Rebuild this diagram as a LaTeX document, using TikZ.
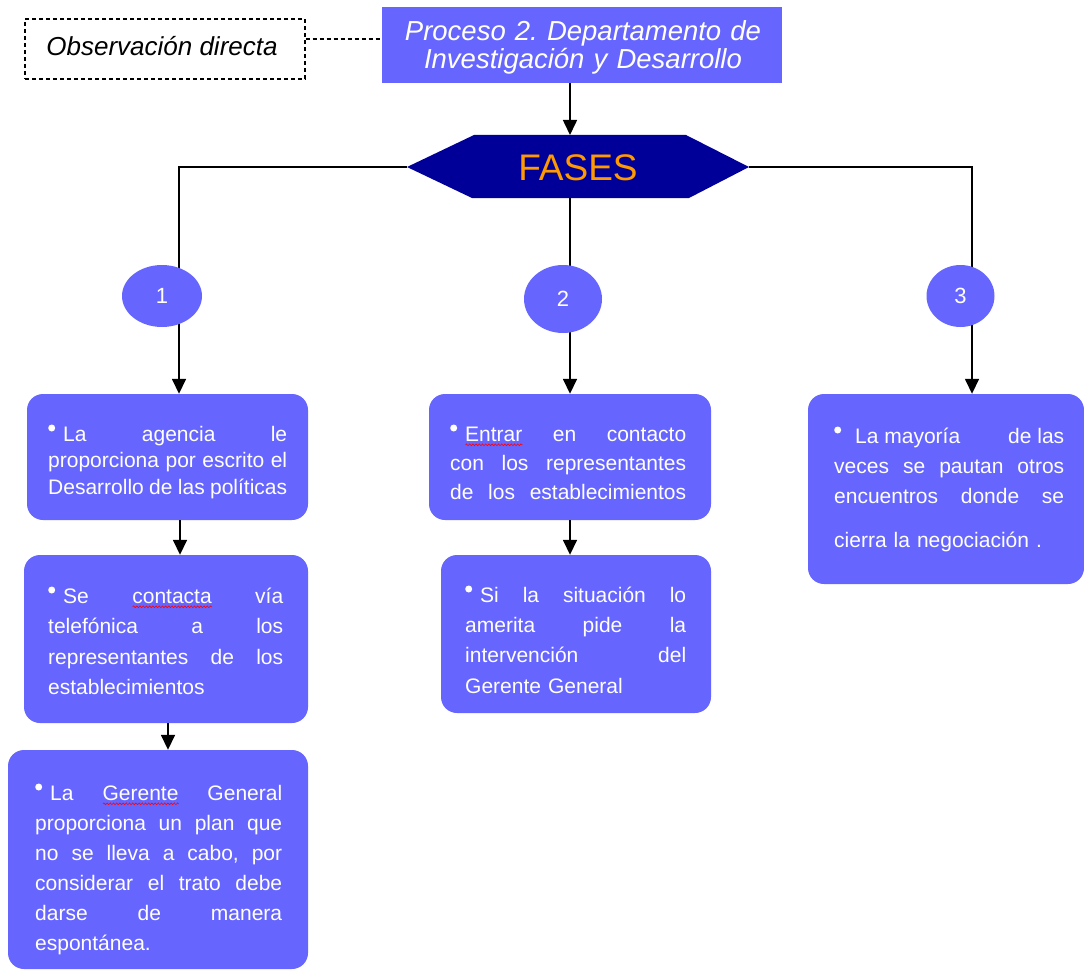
\documentclass[tikz,border=0pt]{standalone}
\usepackage{fontspec}
\setmainfont{Liberation Sans}
\usetikzlibrary{arrows.meta,shapes.geometric,decorations.pathmorphing}
\definecolor{boxblue}{RGB}{102,102,255}
\definecolor{navyhex}{RGB}{0,0,153}
\definecolor{fasesorange}{RGB}{255,153,0}
\newsavebox\spellbox
\newcommand\spellwave[1]{\sbox\spellbox{#1}\rlap{\usebox\spellbox}\makebox[\wd\spellbox][l]{\raisebox{-5pt}[0pt][0pt]{\tikz\draw[red,line width=0.6pt,decorate,decoration={snake,amplitude=0.9pt,segment length=3.2pt}] (0pt,0pt) -- (\wd\spellbox,0pt);}}}
\newcommand\jl[1]{{\spaceskip=0.278em plus 1fil minus 0.06em\makebox[\hsize][s]{#1}}}
\newcommand\bul{\raisebox{9.5pt}{\tikz\fill[white] (0pt,0pt) circle (3.5pt);}\hspace{8pt}}
\pgfdeclarelayer{bg}
\pgfsetlayers{bg,main}
\begin{document}
\frenchspacing
\begin{tikzpicture}[x=1pt,y=-1pt,
  box/.style={fill=boxblue, rounded corners=16pt, inner sep=0pt},
  btext/.style={text=white, anchor=base west, inner sep=0pt, align=left},
  arr/.style={-{Triangle[length=15pt,width=14pt]}, line width=1.6pt, black},
  conn/.style={line width=1.6pt, black},
  phase/.style={ellipse, fill=boxblue, inner sep=0pt, text=white, font=\fontsize{22}{22}\selectfont}]
\useasboundingbox (0,0) rectangle (1084,971);

% top row
\node[draw=black, dash pattern=on 4pt off 3pt, line width=1.1pt, minimum width=280pt, minimum height=60pt, inner sep=0pt] (obs) at (165,49) {};
\node[anchor=base, inner sep=0pt, font=\fontsize{26}{26}\selectfont\itshape] (obst) at (162,56) {Observación directa};
\node[fill=boxblue, minimum width=400pt, minimum height=76pt, inner sep=0pt] (title) at (582,45) {};
\node[anchor=base, text width=380pt, align=center, inner sep=0pt, text=white, font=\fontsize{27.5}{28}\selectfont\itshape] (titlet) at (583,41) {Proceso 2. Departamento de\\Investigación y Desarrollo};
\coordinate (dy) at (0,39);
\draw[dash pattern=on 4pt off 3pt, line width=1.1pt] (obs.east |- dy) -- (title.west |- dy);

% hexagon
\coordinate (hl) at (407,167);
\coordinate (htl) at (474,135);
\coordinate (htr) at (686,135);
\coordinate (hr) at (749,167);
\coordinate (hbr) at (689,198);
\coordinate (hbl) at (472,198);
\coordinate (ht) at (570,135);
\coordinate (hb) at (570,198);
\fill[navyhex] (hl) -- (htl) -- (htr) -- (hr) -- (hbr) -- (hbl) -- cycle;
\node[inner sep=0pt, text=fasesorange, font=\fontsize{37}{37}\selectfont, anchor=base] (fases) at (578,180) {FASES};
\draw[arr] (ht |- title.south) -- (ht);

% phases
\node[phase, minimum width=80pt, minimum height=62pt] (c1) at (162,296) {1};
\node[phase, minimum width=78pt, minimum height=68pt] (c2) at (563,299) {2};
\node[phase, minimum width=68pt, minimum height=62pt] (c3) at (960.5,296) {3};
\coordinate (x1) at (179,0);
\coordinate (x3) at (972,0);

% boxes
\node[box, minimum width=281pt, minimum height=126pt] (b1) at (167.5,457) {};
\node[box, minimum width=284pt, minimum height=168pt] (b2) at (166,639) {};
\node[box, minimum width=300pt, minimum height=219pt] (b3) at (158,859.5) {};
\node[box, minimum width=282pt, minimum height=126pt] (m1) at (570,457) {};
\node[box, minimum width=270pt, minimum height=158pt] (m2) at (576,634) {};
\node[box, minimum width=276pt, minimum height=190pt] (r1) at (946,489) {};

\begin{pgfonlayer}{bg}
\draw[conn] (hl) -| (x1 |- c1.center);
\draw[conn] (hr) -| (x3 |- c3.center);
\draw[conn] (hb) -- (hb |- c2.center);
\draw[arr] (x1 |- c1.center) -- (x1 |- b1.north);
\draw[arr] (hb |- c2.center) -- (hb |- m1.north);
\draw[arr] (x3 |- c3.center) -- (x3 |- r1.north);
\end{pgfonlayer}
\coordinate (bx1) at (180,0);
\coordinate (bx2) at (168,0);
\draw[arr] (bx1 |- b1.south) -- (bx1 |- b2.north);
\draw[arr] (bx2 |- b2.south) -- (bx2 |- b3.north);
\draw[arr] (hb |- m1.south) -- (hb |- m2.north);

% texts
\node[btext, font=\fontsize{21}{26.5}\selectfont, text width=239pt] (t1) at (48,441)
 {\jl{\bul La agencia le}\\ \jl{proporciona por escrito el}\\ \jl{Desarrollo de las políticas}};
\node[btext, font=\fontsize{21}{30.5}\selectfont, text width=235pt] (t2) at (48,603)
 {\jl{\bul Se \spellwave{contacta} vía}\\ \jl{telefónica a los}\\ \jl{representantes de los}\\ establecimientos};
\node[btext, font=\fontsize{21}{30}\selectfont, text width=247pt] (t3) at (35,800)
 {\jl{\bul La \spellwave{Gerente} General}\\ \jl{proporciona un plan que}\\ \jl{no se lleva a cabo, por}\\ \jl{considerar el trato debe}\\ \jl{darse de manera}\\ espontánea.};
\node[btext, font=\fontsize{21}{29}\selectfont, text width=236pt] (tm1) at (450,441)
 {\jl{\bul \spellwave{Entrar} en contacto}\\ \jl{con los representantes}\\ \jl{de los establecimientos}};
\node[btext, font=\fontsize{21}{30.4}\selectfont, text width=221pt] (tm2) at (465,602)
 {\jl{\bul Si la situación lo}\\ \jl{amerita pide la}\\ \jl{intervención del}\\ Gerente General};
\node[btext, font=\fontsize{21}{30}\selectfont, text width=230pt] (tr) at (834,443)
 {\jl{\bul\hspace{6pt}La mayoría\hfill de las}\\ \jl{veces se pautan otros}\\ \jl{encuentros donde se}\\[14pt] cierra la negociación .};
\end{tikzpicture}
\end{document}
